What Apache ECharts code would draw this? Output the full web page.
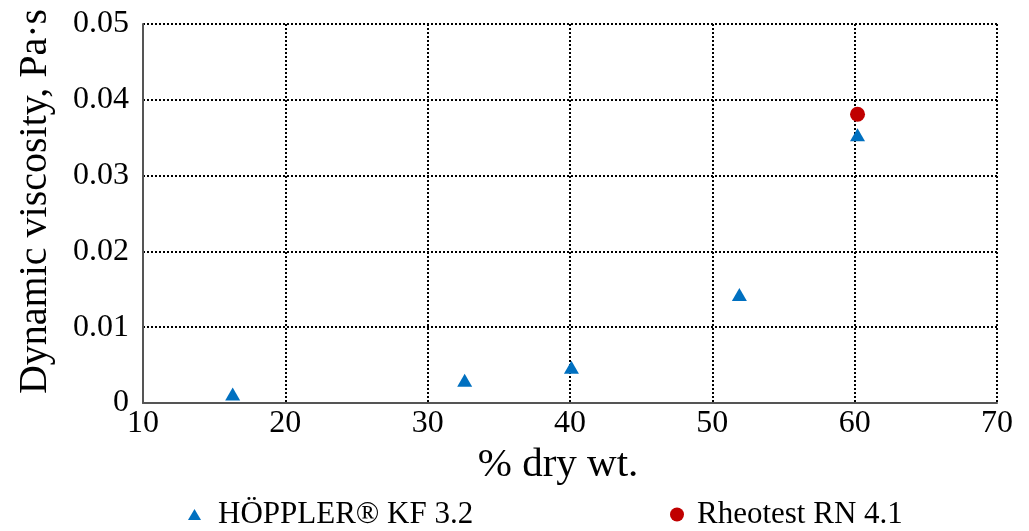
<!DOCTYPE html>
<html><head><meta charset="utf-8">
<script src="https://cdn.jsdelivr.net/npm/echarts@6/dist/echarts.min.js"></script>
<style>html,body{margin:0;padding:0;background:#fff}#c{width:1029px;height:531px}</style>
</head><body><div id="c"></div>
<script>
const hopplerX = [16.3, 32.6, 40.1, 51.9, 60.2];
const hopplerY = [0.0012, 0.0030, 0.0047, 0.0143, 0.0354];
const rheoX = [60.2];
const rheoY = [0.0381];
const seriesNames = ['HÖPPLER® KF 3.2', 'Rheotest RN 4.1'];
const xTitle = '% dry wt.';
const yTitle = 'Dynamic viscosity, Pa·s';

const font = 'Liberation Serif';
const chart = echarts.init(document.getElementById('c'));
chart.setOption({
  animation: false,
  grid: {left: 143, right: 32, top: 24, bottom: 128},
  xAxis: {
    type: 'value', min: 10, max: 70, interval: 10,
    name: xTitle, nameLocation: 'middle', nameGap: 40,
    nameTextStyle: {fontFamily: font, fontSize: 41, color: '#000', padding: [0, 24, 0, 0]},
    axisLine: {show: true, onZero: false, lineStyle: {color: '#555', width: 2}},
    axisTick: {show: false},
    axisLabel: {fontFamily: font, fontSize: 32, color: '#000', margin: 5},
    splitLine: {show: true, lineStyle: {color: '#000', type: [2, 2], width: 2}}
  },
  yAxis: {
    type: 'value', min: 0, max: 0.05, interval: 0.01,
    name: yTitle, nameLocation: 'middle', nameGap: 88,
    nameTextStyle: {fontFamily: font, fontSize: 40, color: '#000', padding: [0, 0, 0, 24]},
    axisLine: {show: true, onZero: false, lineStyle: {color: '#555', width: 2}},
    axisTick: {show: false},
    axisLabel: {fontFamily: font, fontSize: 32, color: '#000', margin: 14,
      formatter: v => v === 0 ? '0' : v.toFixed(2)},
    splitLine: {show: true, lineStyle: {color: '#000', type: [2, 2], width: 2}}
  },
  legend: [
    {data: [{name: seriesNames[0], icon: 'triangle'}], left: 183, top: 494, itemWidth: 13, itemHeight: 11,
     textStyle: {fontFamily: font, fontSize: 31, color: '#000', padding: [0, 0, 0, 12]}},
    {data: [{name: seriesNames[1], icon: 'circle'}], left: 665, top: 494, itemWidth: 14, itemHeight: 14,
     textStyle: {fontFamily: font, fontSize: 31, color: '#000', padding: [0, 0, 0, 8]}}
  ],
  series: [
    {name: seriesNames[0], type: 'scatter', symbol: 'triangle', symbolSize: [15, 13],
     itemStyle: {color: '#0070C0', opacity: 1}, data: hopplerX.map((x, i) => [x, hopplerY[i]])},
    {name: seriesNames[1], type: 'scatter', symbol: 'circle', symbolSize: 15,
     itemStyle: {color: '#C00000', opacity: 1}, data: rheoX.map((x, i) => [x, rheoY[i]])}
  ]
});
</script></body></html>
